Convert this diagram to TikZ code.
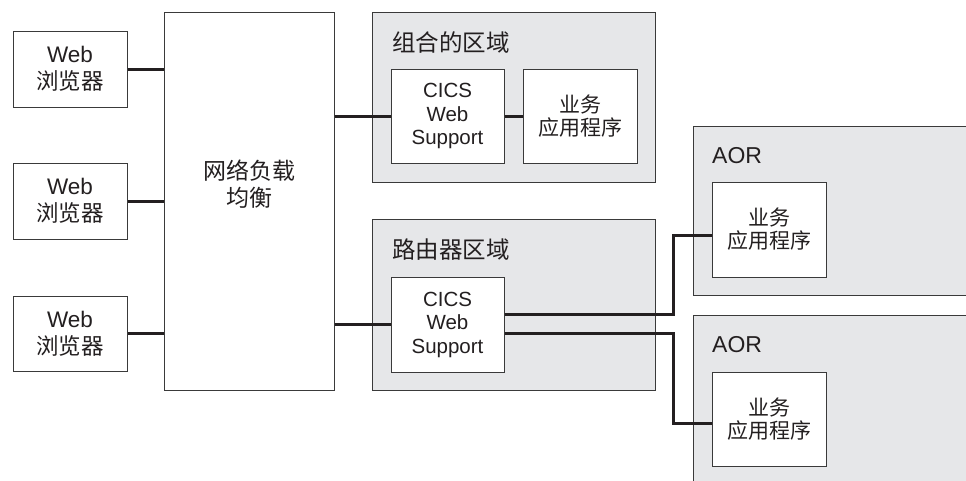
\documentclass[tikz,border=0pt]{standalone}
\usepackage{fontspec}
\setmainfont{Liberation Sans}
\newfontfamily\cjk{Noto Sans CJK SC}
\usetikzlibrary{calc}
\definecolor{regfill}{HTML}{E6E7E9}
\definecolor{edge}{HTML}{3A3A3A}
\definecolor{ink}{HTML}{231F20}
\begin{document}
\begin{tikzpicture}[x=1pt,y=-1pt,
  box/.style={draw=edge,line width=1pt,fill=white,inner sep=0pt,align=center,text=ink},
  region/.style={draw=edge,line width=1pt,fill=regfill,inner sep=0pt,anchor=north west},
  reglabel/.style={anchor=west,inner sep=0pt,text=ink},
  conn/.style={line width=3pt,draw=ink},
  webf/.style={font=\fontsize{22.5}{27}\selectfont},
  cicsf/.style={font=\fontsize{20.5}{23.5}\selectfont},
  appf/.style={font=\cjk\fontsize{21}{23}\selectfont},
]
\useasboundingbox (0,0) rectangle (966,480);
\clip (0,0) rectangle (966,480);
% regions
\node[region,minimum width=283pt,minimum height=170pt] (reg1) at (372,12) {};
\node[region,minimum width=283pt,minimum height=171pt] (reg2) at (372,219) {};
\node[region,minimum width=300pt,minimum height=169pt] (aor1) at (693,126) {};
\node[region,minimum width=300pt,minimum height=180pt] (aor2) at (693,315) {};
\node[reglabel,font=\cjk\fontsize{23.5}{27}\selectfont] (reg1lab) at ($(reg1.north west)+(20,31)$) {组合的区域};
\node[reglabel,font=\cjk\fontsize{23.5}{27}\selectfont] (reg2lab) at ($(reg2.north west)+(20,31)$) {路由器区域};
\node[reglabel,font=\fontsize{23}{27}\selectfont] (aor1lab) at ($(aor1.north west)+(19,30)$) {AOR};
\node[reglabel,font=\fontsize{23}{27}\selectfont] (aor2lab) at ($(aor2.north west)+(19,30)$) {AOR};
% browsers
\node[box,webf,minimum width=114pt,minimum height=76pt] (web1) at (70,69) {Web\\{\cjk 浏览器}};
\node[box,webf,minimum width=114pt,minimum height=76pt] (web2) at (70,201) {Web\\{\cjk 浏览器}};
\node[box,webf,minimum width=114pt,minimum height=75pt] (web3) at (70,333.5) {Web\\{\cjk 浏览器}};
% load balancer
\node[box,minimum width=170pt,minimum height=378pt] (lb) at (249,201) {};
\node[inner sep=0pt,align=center,text=ink,font=\cjk\fontsize{23}{27}\selectfont] (lbtext) at ($(lb.center)+(0,-17)$) {网络负载\\均衡};
% inner boxes
\node[box,cicsf,minimum width=113pt,minimum height=94pt] (cics1) at (447.5,116) {CICS\\Web\\Support};
\node[box,appf,minimum width=114pt,minimum height=94pt] (app1) at (580,116) {业务\\应用程序};
\node[box,cicsf,minimum width=113pt,minimum height=95pt] (cics2) at (447.5,324.5) {CICS\\Web\\Support};
\node[box,appf,minimum width=114pt,minimum height=95pt] (app2) at (769,229.5) {业务\\应用程序};
\node[box,appf,minimum width=114pt,minimum height=94pt] (app3) at (769,419) {业务\\应用程序};
% connectors
\draw[conn] (web1.east) -- (web1.east -| lb.west);
\draw[conn] (web2.east) -- (web2.east -| lb.west);
\draw[conn] (web3.east) -- (web3.east -| lb.west);
\draw[conn] (lb.east |- cics1.west) -- (cics1.west);
\draw[conn] (cics1.east) -- (app1.west);
\draw[conn] (lb.east |- cics2.west) -- (cics2.west);
\draw[conn] ($(cics2.east)+(0,-10.5)$) -| ($(app2.west)+(-38,5.5)$) -- ($(app2.west)+(0,5.5)$);
\draw[conn] ($(cics2.east)+(0,8.5)$) -| ($(app3.west)+(-38,4)$) -- ($(app3.west)+(0,4)$);
\end{tikzpicture}
\end{document}
